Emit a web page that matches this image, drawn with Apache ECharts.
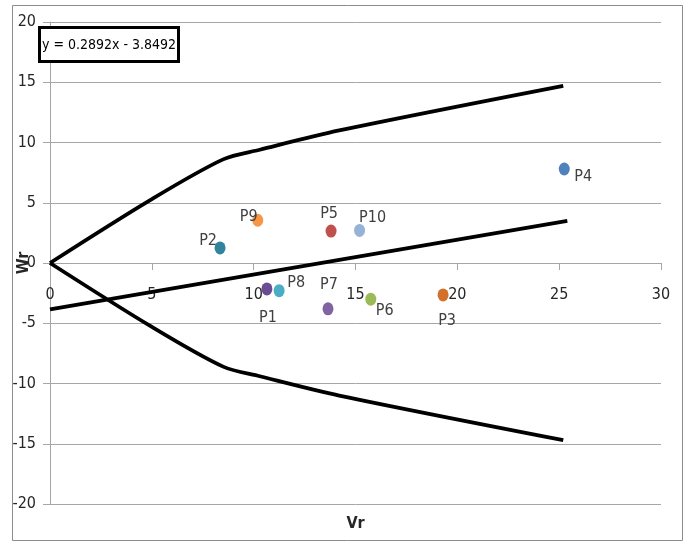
<!DOCTYPE html>
<html>
<head>
<meta charset="utf-8">
<script src="https://cdn.jsdelivr.net/npm/echarts@6/dist/echarts.min.js"></script>
<style>
  html, body { margin: 0; padding: 0; background: #ffffff; }
  #chart { width: 690px; height: 542px; }
</style>
</head>
<body>
<div id="chart"></div>
<script>
// Points in the Vr / Wr plane
const pointNames = ['P1', 'P2', 'P3', 'P4', 'P5', 'P6', 'P7', 'P8', 'P9', 'P10'];
const vrValues   = [10.65, 8.35, 19.3, 25.25, 13.8, 15.75, 13.65, 11.25, 10.2, 15.2];
const wrValues   = [-2.15, 1.25, -2.65, 7.8, 2.65, -3.0, -3.8, -2.3, 3.55, 2.7];

// Upper and lower envelope curves
const upperVr = [0, 4.9, 8.5, 10.3, 14.2, 25.2];
const upperWr = [0, 5.2, 8.6, 9.4, 11.0, 14.7];
const lowerVr = [0, 4.9, 8.5, 10.3, 14.2, 25.2];
const lowerWr = [0, -5.2, -8.6, -9.4, -11.0, -14.7];

// Linear trend: Wr = slope * Vr + intercept
const trendSlope = 0.2892;
const trendIntercept = -3.8492;
const trendRange = [0, 25.4];

// Axis ticks
const xTicks = { min: 0, max: 30, step: 5 };
const yTicks = { min: -20, max: 20, step: 5 };

// Marker colours and label offsets (pixels from marker centre)
const pointColors = ['#6a4c93', '#31849b', '#d2712c', '#4f81bd', '#c0504d',
                     '#9bbb59', '#8064a2', '#4bacc6', '#f79646', '#95b3d7'];
const labelOffsets = [[1, 29], [-12, -7], [4, 26], [19, 8], [-2, -17],
                      [14, 12], [1, -24], [17, -8], [-9, -3], [13, -13]];

const FONT = "'Liberation Sans Narrow', 'DejaVu Sans Condensed', sans-serif";
const GRID = '#a6a6a6';

// Plot frame in pixels
const GRID_TOP = 22, GRID_BOTTOM = 38, CHART_H = 542;
const plotH = CHART_H - GRID_TOP - GRID_BOTTOM;
// lift the x axis from the bottom edge up to Wr = 0
const xAxisLift = plotH * (0 - yTicks.min) / (yTicks.max - yTicks.min);

const zip = (xs, ys) => xs.map((x, i) => [x, ys[i]]);
const trendData = trendRange.map(x => [x, trendSlope * x + trendIntercept]);

const pointSeries = pointNames.map((name, i) => ({
  name: name,
  type: 'scatter',
  symbol: 'circle',
  symbolSize: [11, 13],
  z: 5,
  itemStyle: { color: pointColors[i], opacity: 1 },
  label: {
    show: true,
    position: 'inside',
    offset: labelOffsets[i],
    formatter: name,
    color: '#404040',
    fontSize: 16,
    fontFamily: FONT
  },
  data: [[vrValues[i], wrValues[i]]]
}));

const lineStyle = { color: '#000000', width: 3.8 };

const chart = echarts.init(document.getElementById('chart'), null, { renderer: 'canvas' });
chart.setOption({
  animation: false,
  backgroundColor: '#ffffff',
  title: {
    text: 'y = 0.2892x - 3.8492',
    left: 39,
    top: 27,
    padding: [11, 3, 10, 3],
    borderColor: '#000000',
    borderWidth: 3,
    backgroundColor: '#ffffff',
    textStyle: { fontSize: 14, fontWeight: 'normal', color: '#000000', fontFamily: FONT }
  },
  graphic: [{
    type: 'rect',
    shape: { x: 12.5, y: 5.5, width: 670, height: 535 },
    style: { fill: 'none', stroke: '#8c8c8c', lineWidth: 1 },
    silent: true
  }],
  grid: { left: 50, right: 29, top: GRID_TOP, bottom: GRID_BOTTOM, containLabel: false, outerBoundsMode: 'none' },
  xAxis: {
    type: 'value',
    position: 'bottom',
    offset: -xAxisLift,
    min: xTicks.min, max: xTicks.max, interval: xTicks.step,
    name: 'Vr',
    nameLocation: 'middle',
    nameGap: 253,
    nameMoveOverlap: false,
    nameTextStyle: { fontSize: 16, fontWeight: 'bold', color: '#262626', fontFamily: FONT },
    axisLine: { show: true, onZero: false, lineStyle: { color: GRID, width: 1 } },
    axisTick: { show: true, inside: false, length: 7, lineStyle: { color: GRID } },
    axisLabel: { margin: 24, fontSize: 16, color: '#262626', fontFamily: FONT },
    splitLine: { show: false }
  },
  yAxis: {
    type: 'value',
    min: yTicks.min, max: yTicks.max, interval: yTicks.step,
    name: 'Wr',
    nameLocation: 'middle',
    nameRotate: 90,
    nameGap: 18,
    nameMoveOverlap: false,
    nameTextStyle: { fontSize: 16, fontWeight: 'bold', color: '#262626', fontFamily: FONT },
    axisLine: { show: true, onZero: false, lineStyle: { color: GRID, width: 1 } },
    axisTick: { show: true, inside: false, length: 7, lineStyle: { color: GRID } },
    axisLabel: { margin: 14, fontSize: 16, color: '#262626', fontFamily: FONT },
    splitLine: { show: true, lineStyle: { color: GRID, width: 1 } }
  },
  series: [
    { name: 'upper', type: 'line', data: zip(upperVr, upperWr), smooth: 0.3,
      symbol: 'none', lineStyle: lineStyle, z: 3 },
    { name: 'lower', type: 'line', data: zip(lowerVr, lowerWr), smooth: 0.3,
      symbol: 'none', lineStyle: lineStyle, z: 3 },
    { name: 'trend', type: 'line', data: trendData,
      symbol: 'none', lineStyle: lineStyle, z: 3 }
  ].concat(pointSeries)
});
</script>
</body>
</html>
